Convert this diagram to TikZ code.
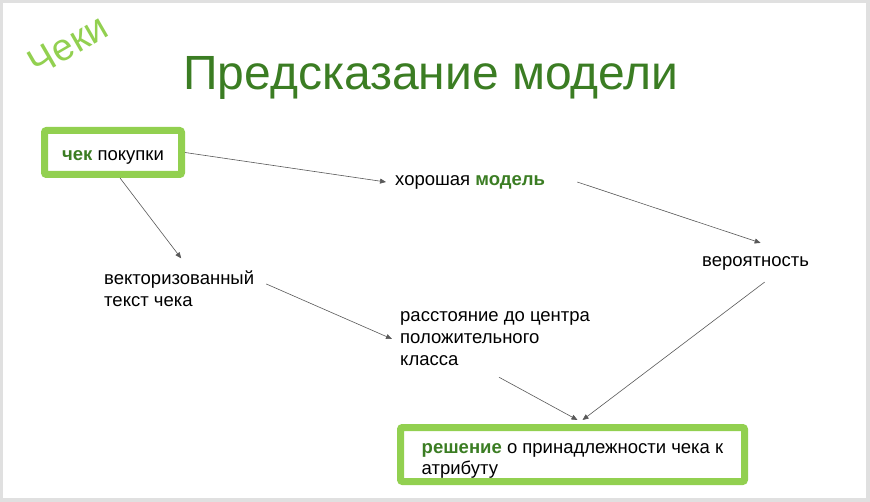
\documentclass[tikz,border=0pt]{standalone}
\usepackage{fontspec}
\setmainfont{Liberation Sans}
\usetikzlibrary{arrows.meta,calc}
\definecolor{dkgreen}{HTML}{3B7D23}
\definecolor{ltgreen}{HTML}{92D050}
\definecolor{arrowgray}{HTML}{595959}
\definecolor{framegray}{HTML}{E0E0E0}
\begin{document}
\begin{tikzpicture}[x=1pt,y=-1pt,
  greenbox/.style={draw=ltgreen, line width=7pt, rounded corners=2pt, fill=white,
    align=left, inner sep=0pt, font=\fontsize{18.5}{21}\selectfont},
  label/.style={inner sep=0pt, align=left, font=\fontsize{18.5}{22}\selectfont},
  arr/.style={draw=arrowgray, line width=0.6pt, -{Triangle[length=6pt,width=5pt]}}]
\fill[framegray] (0,0) rectangle (870,502);
\fill[white] (3,3) rectangle (866,498);
\useasboundingbox (0,0) rectangle (870,502);

\node[rotate=30, text=ltgreen, font=\fontsize{38}{38}\selectfont, inner sep=0pt] (tag) at (68,45) {Чеки};
\node[text=dkgreen, font=\fontsize{48}{48}\selectfont, inner sep=0pt] (title) at (431,78) {Предсказание модели};

\node[greenbox, minimum width=137pt, minimum height=44pt]
  (receipt) at (113,152.5) {\rule{0pt}{19pt}{\color{dkgreen}\textbf{чек}} покупки};
\node[label, anchor=west] (good) at (395,182) {хорошая {\color{dkgreen}\textbf{модель}}};
\node[label, anchor=west] (vec) at (104,289) {векторизованный\\текст чека};
\node[label, anchor=west] (prob) at (702,263) {вероятность};
\node[label, anchor=west] (dist) at (400,339) {расстояние до центра\\положительного\\класса};
\node[greenbox, minimum width=344pt, minimum height=54pt]
  (dec) at (572.5,454.5) {\rule{0pt}{23pt}{\color{dkgreen}\textbf{решение}} о принадлежности чека к\\атрибуту};

\draw[arr] (receipt.east) -- ([xshift=-9pt]good.west);
\draw[arr] ([xshift=7pt]receipt.south) -- ([shift={(2pt,12.5pt)}]vec.north);
\draw[arr] ([xshift=32pt]good.east) -- ([shift={(5pt,13pt)}]prob.north);
\draw[arr] ([shift={(12pt,5pt)}]vec.east) -- ([xshift=-8pt]dist.west);
\draw[arr] ([shift={(4pt,-11pt)}]dist.south) -- ([shift={(5pt,4pt)}]dec.north);
\draw[arr] ([shift={(9pt,-12pt)}]prob.south) -- ([shift={(10pt,4pt)}]dec.north);
\end{tikzpicture}
\end{document}
